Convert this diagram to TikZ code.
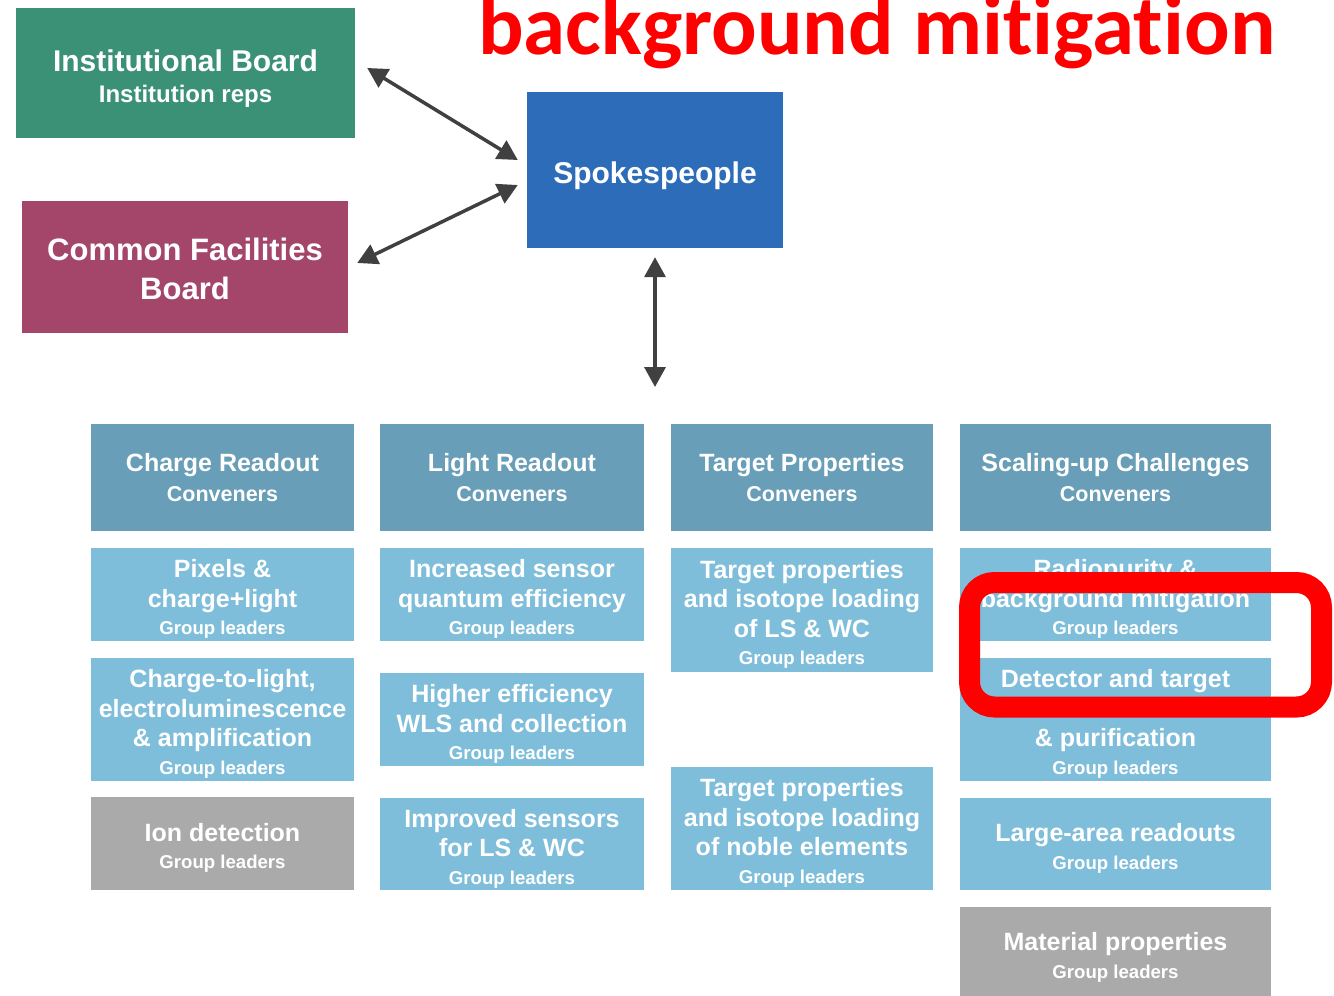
\documentclass[tikz,border=0pt]{standalone}
\usepackage{fontspec}
\setmainfont{Liberation Sans}
\newfontfamily\titlefont{Carlito}[Ligatures={NoCommon,NoRequired,NoContextual}]
\usetikzlibrary{arrows.meta}
\definecolor{ibgreen}{HTML}{3B9176}
\definecolor{cfbred}{HTML}{A4466A}
\definecolor{spblue}{HTML}{2D6CB8}
\definecolor{hdrblue}{HTML}{689EB7}
\definecolor{ltblue}{HTML}{7FBEDA}
\definecolor{boxgray}{HTML}{AAAAAA}
\definecolor{arrgray}{HTML}{404040}
\newcommand{\glead}{{\fontsize{18.6}{22}\selectfont Group leaders}}
\newcommand{\conv}{{\fontsize{21.5}{25}\selectfont Conveners}}
\newcommand{\lo}[1][27pt]{\rule{0pt}{#1}}
\begin{document}
\begin{tikzpicture}[x=1pt,y=-1pt,
  box/.style={draw=none, text=white, align=center, inner sep=0pt,
    font=\bfseries\fontsize{25}{29.5}\selectfont},
  hdr/.style={box, fill=hdrblue},
  grp/.style={box, fill=ltblue},
  gry/.style={box, fill=boxgray},
  c1/.style={minimum width=263pt},
  c2/.style={minimum width=264pt},
  c3/.style={minimum width=262pt},
  c4/.style={minimum width=311pt},
  conn/.style={<->, draw=arrgray, line width=3.5pt,
    >={Triangle[length=20pt,width=21pt]}}]
\useasboundingbox (0,0) rectangle (1334,996);
\clip (0,0) rectangle (1334,996);

% top boards
\node[box, fill=ibgreen, minimum width=339pt, minimum height=130pt,
  font=\bfseries\fontsize{30}{31}\selectfont] (ib) at (185.5,73)
  {\lo[32pt]Institutional Board\\{\fontsize{24}{24}\selectfont Institution reps}};
\node[box, fill=cfbred, minimum width=326pt, minimum height=132pt,
  font=\bfseries\fontsize{31}{39}\selectfont] (cfb) at (185,267)
  {\lo[26.5pt]Common Facilities\\Board};
\node[box, fill=spblue, minimum width=256pt, minimum height=156pt,
  font=\bfseries\fontsize{30}{30}\selectfont] (sp) at (655,170)
  {\lo[33pt]Spokespeople};

% title
\node[anchor=base west, text=red, inner sep=0pt,
  font=\titlefont\bfseries\fontsize{85}{85}\selectfont] (title) at (478,54)
  {background mitigation};

% headers
\node[hdr, c1, minimum height=107pt] (h1) at (222.5,477.5) {Charge Readout\\\conv};
\node[hdr, c2, minimum height=107pt] (h2) at (512,477.5) {Light Readout\\\conv};
\node[hdr, c3, minimum height=107pt] (h3) at (802,477.5) {Target Properties\\\conv};
\node[hdr, c4, minimum height=107pt] (h4) at (1115.5,477.5) {Scaling-up Challenges\\\conv};

% column 1
\node[grp, c1, minimum height=93pt] (g11) at (222.5,594.5)
  {\lo Pixels \&\\charge+light\\[-2pt]\glead};
\node[grp, c1, minimum height=123pt] (g12) at (222.5,719.5)
  {\lo Charge-to-light,\\electroluminescence\\\& amplification\\[-2pt]\glead};
\node[gry, c1, minimum height=93pt] (g13) at (222.5,843.5)
  {\lo Ion detection\\[-2pt]\glead};

% column 2
\node[grp, c2, minimum height=93pt] (g21) at (512,594.5)
  {\lo Increased sensor\\quantum efficiency\\[-2pt]\glead};
\node[grp, c2, minimum height=93pt] (g22) at (512,719.5)
  {\lo Higher efficiency\\WLS and collection\\[-2pt]\glead};
\node[grp, c2, minimum height=92pt] (g23) at (512,844)
  {\lo Improved sensors\\for LS \& WC\\[-2pt]\glead};

% column 3
\node[grp, c3, minimum height=124pt] (g31) at (802,610)
  {\lo Target properties\\and isotope loading\\of LS \& WC\\[-2pt]\glead};
\node[grp, c3, minimum height=123pt] (g32) at (802,828.5)
  {\lo Target properties\\and isotope loading\\of noble elements\\[-2pt]\glead};

% column 4
\node[grp, c4, minimum height=93pt] (g41) at (1115.5,594.5)
  {\lo Radiopurity \&\\background mitigation\\[-2pt]\glead};
\node[grp, c4, minimum height=123pt] (g42) at (1115.5,719.5)
  {\lo Detector and target\\\strut\\\& purification\\[-2pt]\glead};
\node[grp, c4, minimum height=92pt] (g43) at (1115.5,844)
  {\lo Large-area readouts\\[-2pt]\glead};
\node[gry, c4, minimum height=92pt] (g44) at (1115.5,953)
  {\lo Material properties\\[-2pt]\glead};

% connectors
\coordinate (vb) at (655,387);
\draw[conn] ([shift={(12,-5)}]ib.east) -- ([shift={(-9,-10)}]sp.west);
\draw[conn] ([shift={(9,-4)}]cfb.east) -- ([shift={(-9,15)}]sp.west);
\draw[conn] ([shift={(0,9)}]sp.south) -- (vb);

% highlight
\node[draw=red, line width=21pt, rounded corners=25pt, inner sep=0pt,
  minimum width=352pt, minimum height=124.5pt] (hl) at (1145.5,644.75) {};
\end{tikzpicture}
\end{document}
